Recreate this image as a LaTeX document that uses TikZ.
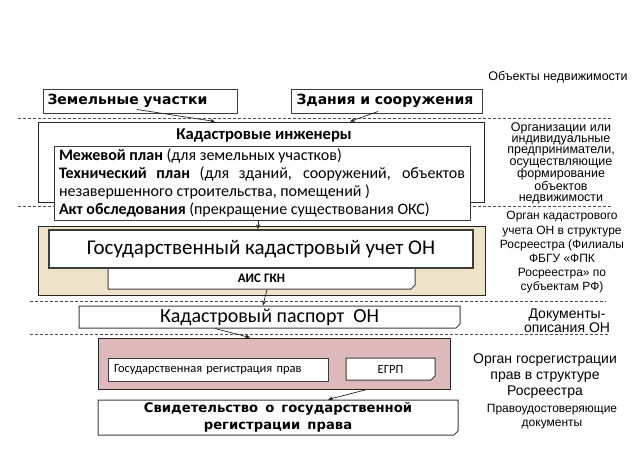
\documentclass[tikz,border=0pt]{standalone}
\usepackage{fontspec}
\setmainfont{Carlito}
\newfontfamily\lab{Liberation Sans}
\newfontfamily\dvb{DejaVu Sans}
\newcommand\widespaces{\spaceskip=7pt plus 1pt\relax}
\usetikzlibrary{arrows.meta,shapes.misc}
\definecolor{tanfill}{RGB}{238,227,200}
\definecolor{pinkfill}{RGB}{221,185,187}
\definecolor{edge}{RGB}{60,60,60}
\tikzset{
  plainbox/.style={draw=edge, line width=1pt, fill=white, inner sep=0pt},
  dogbox/.style={plainbox, shape=chamfered rectangle, chamfered rectangle corners=south east,
    chamfered rectangle xsep=2pt, chamfered rectangle ysep=2pt},
  panel/.style={draw=black!85, line width=1pt, inner sep=0pt},
  sepline/.style={draw=black!70, dash pattern=on 3pt off 2pt, line width=0.8pt},
  arr/.style={draw=black!85, line width=0.7pt, -{Stealth[length=5pt,width=4pt]}},
  sidelabel/.style={align=center, inner sep=0pt, font=\lab},
  topbox/.style={plainbox, minimum height=24, align=left, font=\dvb\bfseries\fontsize{14}{18}\selectfont}
}
\begin{document}
\begin{tikzpicture}[x=1pt,y=-1pt]
\useasboundingbox (0,0) rectangle (634,452);
\fill[white] (0,0) rectangle (634,452);

% separators
\coordinate (s1a) at (18,118);  \coordinate (s1b) at (613,118);
\coordinate (s2a) at (18,206);  \coordinate (s2b) at (613,206);
\coordinate (s3a) at (30,301);  \coordinate (s3b) at (606,301);
\coordinate (s4a) at (30,334);  \coordinate (s4b) at (610,334);
\draw[sepline] (s1a) -- (s1b);
\draw[sepline] (s2a) -- (s2b);
\draw[sepline] (s3a) -- (s3b);
\draw[sepline] (s4a) -- (s4b);

% top objects
\node[topbox, text width=185, inner xsep=4.5] (zem) at (140,101) {Земельные участки};
\node[topbox, text width=180, inner xsep=5.5] (zd) at (386.5,101) {\mbox{Здания и сооружения}};

% cadastral engineers
\node[panel, fill=white, minimum width=446, minimum height=80] (ki) at (261,162) {};
\node[inner sep=0pt, font=\bfseries\fontsize{16.6}{18}\selectfont] (kit) at (264,135) {Кадастровые инженеры};
\node[plainbox, text width=406, inner xsep=5, inner ysep=0pt, minimum height=74, align=justify,
      font=\fontsize{16}{18}\selectfont] (plan) at (262,183)
 {\textbf{Межевой план} (для земельных участков)\par
  \textbf{Технический план} (для зданий, сооружений, объектов\linebreak незавершенного строительства, помещений )\par
  \textbf{Акт обследования} (прекращение существования ОКС)};

% state cadastral registration
\node[panel, fill=tanfill, minimum width=447, minimum height=69] (tan) at (261.5,260.5) {};
\node[dogbox, minimum width=307, minimum height=21, font=\bfseries\fontsize{13}{15}\selectfont] (ais) at (261.5,278.5) {АИС ГКН};
\node[plainbox, line width=1.3pt, minimum width=424, minimum height=38, font=\fontsize{21}{24}\selectfont] (gos) at (261,249) {Государственный кадастровый учет ОН};

\node[dogbox, minimum width=381, minimum height=22, font=\fontsize{20}{22}\selectfont] (pasp) at (269.5,317) {Кадастровый паспорт\ \ ОН};

% rights registration
\node[panel, fill=pinkfill, minimum width=352, minimum height=51] (pink) at (274,363.5) {};
\node[plainbox, minimum width=220, minimum height=23, text width=208, align=left, font=\fontsize{12.5}{14}\selectfont] (gosreg) at (218,369.5) {Государственная регистрация прав};
\node[dogbox, minimum width=89, minimum height=22, font=\fontsize{12.5}{14}\selectfont] (egrp) at (390.5,369) {ЕГРП};

\node[dogbox, minimum width=360, minimum height=35, align=center, font=\dvb\bfseries\fontsize{13.2}{17}\selectfont] (svid) at (278,417.5) {\widespaces Свидетельство о государственной\\\widespaces регистрации права};

% side labels
\node[sidelabel, font=\lab\fontsize{12.5}{14}\selectfont] (l0) at (558,77) {Объекты недвижимости};
\node[sidelabel, font=\lab\fontsize{12.5}{11.2}\selectfont] (l1) at (561,163.5) {Организации или\\индивидуальные\\предприниматели,\\осуществляющие\\формирование\\объектов\\недвижимости};
\node[sidelabel, font=\lab\fontsize{12}{14.2}\selectfont] (l2) at (562,252.5) {Орган кадастрового\\учета ОН в структуре\\Росреестра (Филиалы\\ФБГУ «ФПК\\Росреестра» по\\субъектам РФ)};
\node[sidelabel, font=\lab\fontsize{14}{14}\selectfont] (l3) at (567,321) {Документы-\\описания ОН};
\node[sidelabel, font=\lab\fontsize{14}{16}\selectfont] (l4) at (545,376) {Орган госрегистрации\\прав в структуре\\Росреестра};
\node[sidelabel, font=\lab\fontsize{12}{14}\selectfont] (l5) at (552,417) {Правоудостоверяющие\\документы};

% arrows
\draw[arr] ([xshift=-3pt,yshift=4pt]zem.south) -- ([xshift=-46pt]ki.north);
\draw[arr] ([xshift=-8.5pt,yshift=2pt]zd.south) -- ([xshift=89pt]ki.north);
\draw[arr] ([xshift=-4pt]plan.south) -- ([xshift=-3pt]gos.north);
\draw[arr] ([xshift=5.5pt]ais.south) -- ([xshift=-6.5pt]pasp.north);
\draw[arr] ([xshift=-54.5pt]pasp.south) -- ([xshift=-24pt]pink.north);
\draw[arr] ([xshift=93pt]pink.south) -- ([xshift=50pt]svid.north);
\end{tikzpicture}
\end{document}
